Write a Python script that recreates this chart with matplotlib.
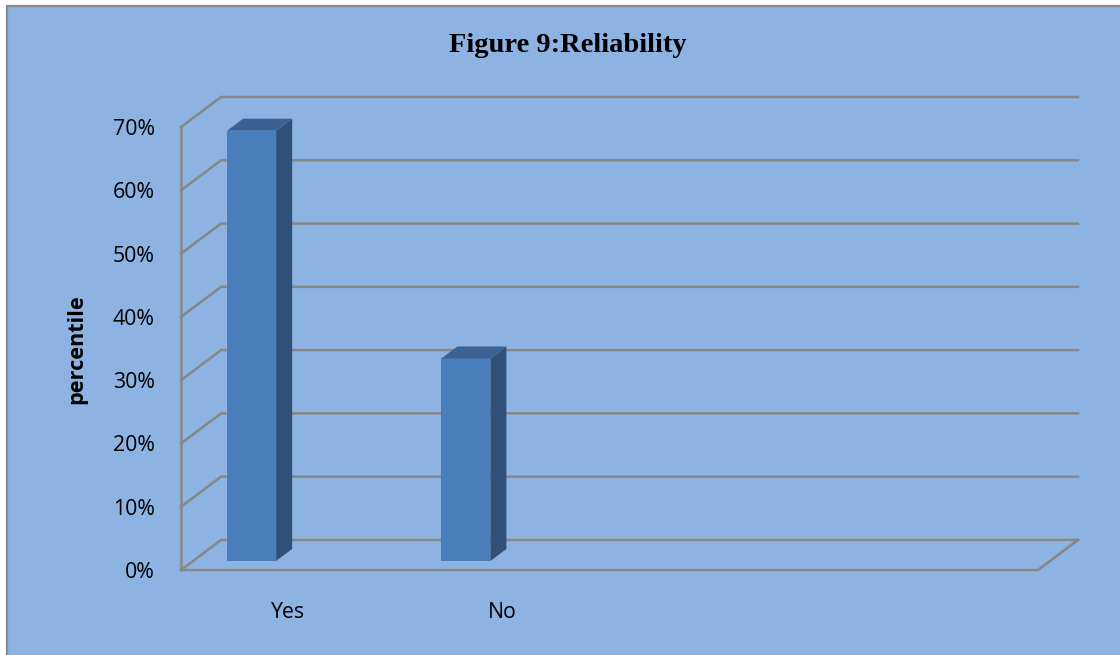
import matplotlib; matplotlib.use('Agg')
import matplotlib.pyplot as plt
from matplotlib.patches import Rectangle

categories = ['Yes', 'No', '', '']
values     = [68, 32]          # percent
y_ticks    = [0, 10, 20, 30, 40, 50, 60, 70]
title      = 'Figure 9:Reliability'
y_label    = 'percentile'

BG    = '#8DB3E2'
GRID  = '#878787'
FACE  = '#4A7EBB'
SIDE  = '#30507A'
TOP   = '#3A6295'

# fake 3-D depth: shift of the back wall in data units
DX, DY = 0.187, 4.75
n_cat  = len(categories)
y_max  = y_ticks[-1]

W, H = 1120, 655
fig = plt.figure(figsize=(W / 100, H / 100), dpi=100, facecolor='white')
fig.patches.append(Rectangle((7 / W, -0.05), 1.05, 1.05 - 6 / H, transform=fig.transFigure,
                             facecolor=BG, edgecolor='#8A8A8A', lw=1.6, zorder=-1))

ax = fig.add_axes([181 / W, (H - 570) / H, (1078 - 181) / W, (570 - 97) / H])
ax.set_xlim(0, n_cat + DX)
ax.set_ylim(0, y_max + DY)
ax.patch.set_visible(False)
for s in ax.spines.values():
    s.set_visible(False)

gkw = dict(color=GRID, lw=1.8, clip_on=False, zorder=1, solid_capstyle='projecting')
for k in y_ticks:
    ax.plot([0, DX, n_cat + DX], [k, k + DY, k + DY], **gkw)
ax.plot([0, 0], [0, y_max], **gkw)
ax.plot([0, n_cat, n_cat + DX], [0, 0, DY], **gkw)

# columns: front face, right side, top
z0, z1 = 0.3, 0.7
for i, v in enumerate(values):
    x0, x1 = i + 0.159, i + 0.388
    ax.fill([x0 + z0 * DX, x1 + z0 * DX, x1 + z0 * DX, x0 + z0 * DX],
            [z0 * DY, z0 * DY, v + z0 * DY, v + z0 * DY], color=FACE, lw=0, zorder=3)
    ax.fill([x1 + z0 * DX, x1 + z1 * DX, x1 + z1 * DX, x1 + z0 * DX],
            [z0 * DY, z1 * DY, v + z1 * DY, v + z0 * DY], color=SIDE, lw=0, zorder=3)
    ax.fill([x0 + z0 * DX, x1 + z0 * DX, x1 + z1 * DX, x0 + z1 * DX],
            [v + z0 * DY, v + z0 * DY, v + z1 * DY, v + z1 * DY], color=TOP, lw=0, zorder=3)

tick_font = dict(family=['Open Sans', 'DejaVu Sans'], size=15.3)
ax.set_yticks(y_ticks)
ax.set_yticklabels([f'{t}%' for t in y_ticks], **tick_font)
ax.set_xticks([i + 0.5 for i in range(n_cat)])
ax.set_xticklabels(categories, **tick_font)
ax.tick_params(axis='y', length=0, pad=19)
ax.tick_params(axis='x', length=0, pad=23)

fig.text(568 / W, 1 - 52 / H, title, ha='center', va='baseline',
         family='Liberation Serif', weight='bold', fontsize=20.5)
fig.text(77 / W, 1 - 349 / H, y_label, ha='center', va='center', rotation=90,
         family=['Open Sans', 'DejaVu Sans'], weight='bold', fontsize=15.6)

fig.savefig('out.png', dpi=100, facecolor='white')
